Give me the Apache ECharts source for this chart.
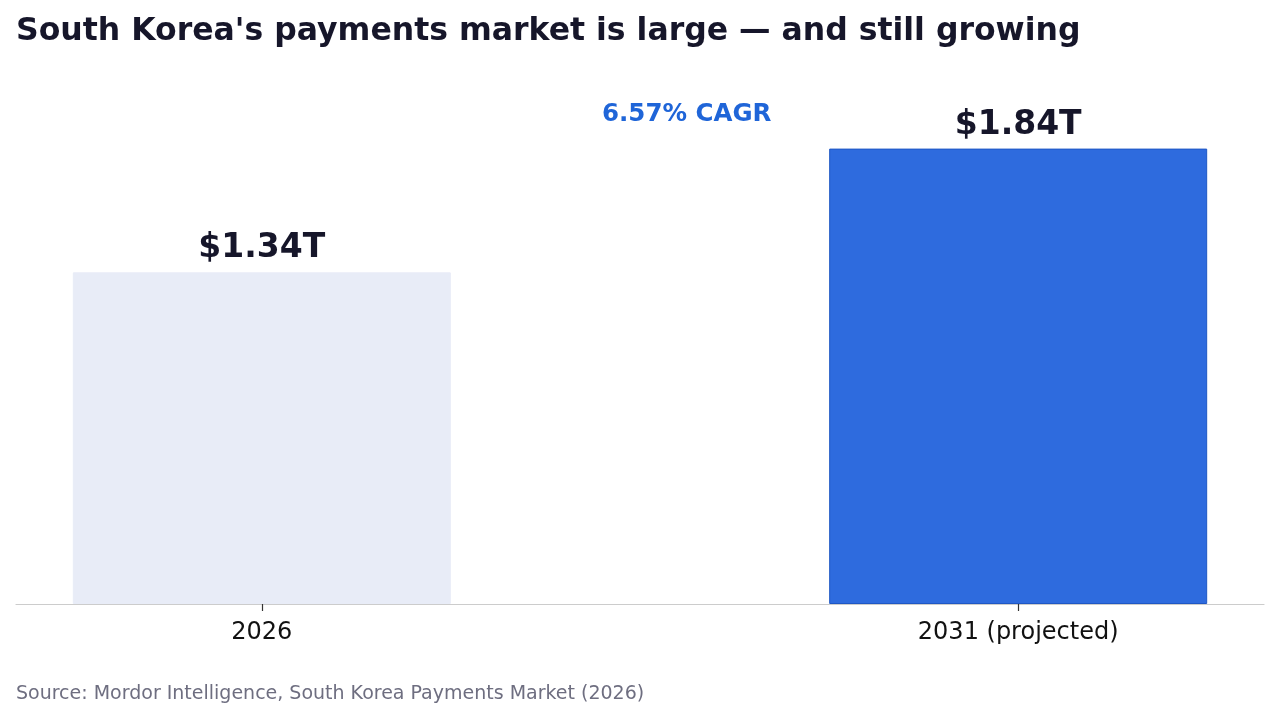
<!DOCTYPE html>
<html>
<head>
<meta charset="utf-8">
<script src="https://cdn.jsdelivr.net/npm/echarts@6/dist/echarts.min.js"></script>
<style>
  html, body { margin: 0; padding: 0; background: #ffffff; }
  #chart { width: 1280px; height: 721px; }
</style>
</head>
<body>
<div id="chart"></div>
<script>
// 数据
var categories = ['2026', '2031 (projected)'];
var marketValues = [1.34, 1.84];   // 单位: 万亿美元
var valueLabels = ['$1.34T', '$1.84T'];
var cagrLabel = '6.57% CAGR';

var barColors = ['#E8ECF7', '#2E6BDE'];
var barBorders = ['#E8ECF7', '#1F57C4'];

function buildBarData() {
    var data = [];
    for (var i = 0; i < categories.length; i++) {
        data.push({
            value: [i, marketValues[i]],
            itemStyle: { color: barColors[i], borderColor: barBorders[i], borderWidth: 1 },
            label: { formatter: valueLabels[i] }
        });
    }
    return data;
}

var mainContainer = document.getElementById('chart');
var chart = echarts.init(mainContainer);

var option = {
    animation: false,
    backgroundColor: '#ffffff',
    textStyle: { fontFamily: 'DejaVu Sans' },
    title: [{
        text: "South Korea's payments market is large — and still growing",
        left: 16,
        top: 16,
        padding: 0,
        textStyle: { fontFamily: 'DejaVu Sans', fontWeight: 'bold', fontSize: 31.5, color: '#16162A' }
    }, {
        text: cagrLabel,
        left: 602,
        top: 102,
        padding: 0,
        textStyle: { fontFamily: 'DejaVu Sans', fontWeight: 'bold', fontSize: 24.5, color: '#1F65D8' }
    }, {
        text: 'Source: Mordor Intelligence, South Korea Payments Market (2026)',
        left: 16,
        top: 685,
        padding: 0,
        textStyle: { fontFamily: 'DejaVu Sans', fontWeight: 'normal', fontSize: 19, color: '#6E6E80' }
    }],
    grid: { left: 16, right: 16, top: 109, bottom: 117, containLabel: false },
    xAxis: {
        type: 'value',
        min: -0.325,
        max: 1.325,
        splitLine: { show: false },
        axisLine: { show: true, lineStyle: { color: '#CCCCCC', width: 1.2 } },
        axisTick: { show: true, customValues: [0, 1], length: 7, lineStyle: { color: '#333333', width: 1.2 } },
        axisLabel: {
            customValues: [0, 1],
            margin: 17,
            fontSize: 24,
            color: '#111111',
            fontFamily: 'DejaVu Sans',
            formatter: function (v) { return categories[Math.round(v)]; }
        }
    },
    yAxis: {
        type: 'value',
        min: 0,
        max: 2,
        show: false
    },
    series: [{
        type: 'bar',
        barWidth: 378,
        data: buildBarData(),
        label: {
            show: true,
            position: 'top',
            distance: 7,
            fontFamily: 'DejaVu Sans',
            fontWeight: 'bold',
            fontSize: 33,
            color: '#16162A'
        }
    }]
};

chart.setOption(option);
</script>
</body>
</html>
